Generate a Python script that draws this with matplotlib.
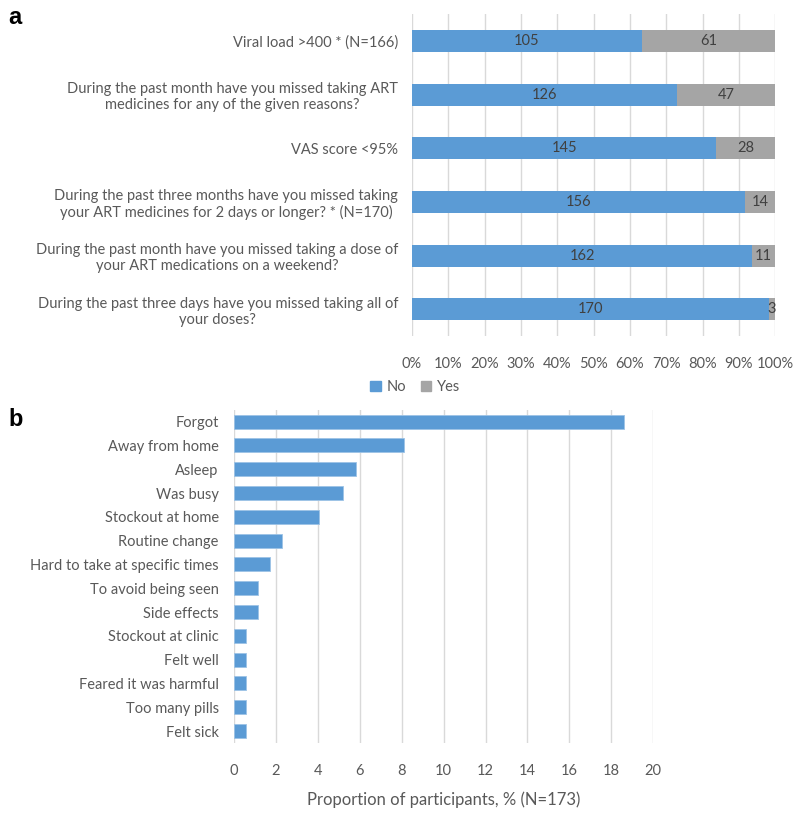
import matplotlib.pyplot as plt
import numpy as np
from matplotlib.patches import Patch

plt.rcParams['font.family'] = ['Lato', 'DejaVu Sans']

# panel a data (top to bottom)
questions = [
    "Viral load >400 * (N=166)",
    "During the past month have you missed taking ART\nmedicines for any of the given reasons?",
    "VAS score <95%",
    "During the past three months have you missed taking\nyour ART medicines for 2 days or longer? * (N=170)",
    "During the past month have you missed taking a dose of\nyour ART medications on a weekend?",
    "During the past three days have you missed taking all of\nyour doses?",
]
no_counts = [105, 126, 145, 156, 162, 170]
yes_counts = [61, 47, 28, 14, 11, 3]

# panel b data (top to bottom)
reasons = [
    "Forgot", "Away from home", "Asleep", "Was busy", "Stockout at home",
    "Routine change", "Hard to take at specific times", "To avoid being seen",
    "Side effects", "Stockout at clinic", "Felt well", "Feared it was harmful",
    "Too many pills", "Felt sick",
]
reason_pct = [18.6, 8.1, 5.8, 5.2, 4.05, 2.3, 1.7, 1.15, 1.15, 0.58, 0.58, 0.58, 0.58, 0.58]

blue = '#5B9BD5'
grey = '#A5A5A5'
txt = '#595959'
grid = '#D9D9D9'

fig = plt.figure(figsize=(8, 8.26), dpi=100)

# ---- panel a ----
ax1 = fig.add_axes([0.515, 0.593, 0.454, 0.390])
no = np.array(no_counts, dtype=float)
yes = np.array(yes_counts, dtype=float)
tot = no + yes
no_p = no / tot * 100
yes_p = yes / tot * 100
y = np.arange(len(questions))
ax1.barh(y, no_p, height=0.41, color=blue, label='No', zorder=2)
ax1.barh(y, yes_p, left=no_p, height=0.41, color=grey, label='Yes', zorder=2)
for i in range(len(questions)):
    ax1.text(no_p[i] / 2, y[i], str(no_counts[i]), ha='center', va='center',
             fontsize=10.5, color='#404040', zorder=3)
    ax1.text(no_p[i] + yes_p[i] / 2, y[i], str(yes_counts[i]), ha='center', va='center',
             fontsize=10.5, color='#404040', zorder=3)
ax1.set_xlim(0, 100)
ax1.set_ylim(len(questions) - 0.5, -0.5)
ax1.set_yticks(y)
ax1.set_yticklabels(questions, multialignment='center')
ax1.set_xticks(np.arange(0, 101, 10))
ax1.set_xticklabels([f"{v}%" for v in range(0, 101, 10)])
ax1.tick_params(axis='both', length=0, labelsize=10.5, colors=txt)
ax1.tick_params(axis='x', pad=15)
ax1.tick_params(axis='y', pad=10)
ax1.grid(axis='x', color=grid, linewidth=1, zorder=0)
for s in ax1.spines.values():
    s.set_visible(False)

fig.legend(handles=[Patch(color=blue, label='No'), Patch(color=grey, label='Yes')],
           loc='center', bbox_to_anchor=(0.519, 1 - 387 / 826), ncol=2, frameon=False,
           fontsize=10.5, labelcolor=txt, handlelength=0.7, handleheight=0.7,
           handletextpad=0.4, columnspacing=1.0)

# ---- panel b ----
ax2 = fig.add_axes([0.2925, 0.1005, 0.524, 0.4035])
yb = np.arange(len(reasons))
ax2.barh(yb, reason_pct, height=0.59, color=blue, edgecolor='#9DC3E6', linewidth=0.6, zorder=2)
ax2.set_xlim(0, 20)
ax2.set_ylim(len(reasons) - 0.5, -0.5)
ax2.set_yticks(yb)
ax2.set_yticklabels(reasons)
ax2.set_xticks(np.arange(0, 21, 2))
ax2.tick_params(axis='both', length=0, labelsize=10.5, colors=txt)
ax2.tick_params(axis='x', pad=15)
ax2.tick_params(axis='y', pad=11)
ax2.grid(axis='x', color=grid, linewidth=1, zorder=0)
for s in ax2.spines.values():
    s.set_visible(False)
ax2.set_xlabel("Proportion of participants, % (N=173)", fontsize=12, color=txt, labelpad=10)

fig.text(0.01, 1 - 18 / 826, "a", fontsize=17, fontweight='bold', family='Liberation Sans', va='center')
fig.text(0.01, 1 - 420 / 826, "b", fontsize=17, fontweight='bold', family='Liberation Sans', va='center')

fig.savefig("out.png", dpi=100)
